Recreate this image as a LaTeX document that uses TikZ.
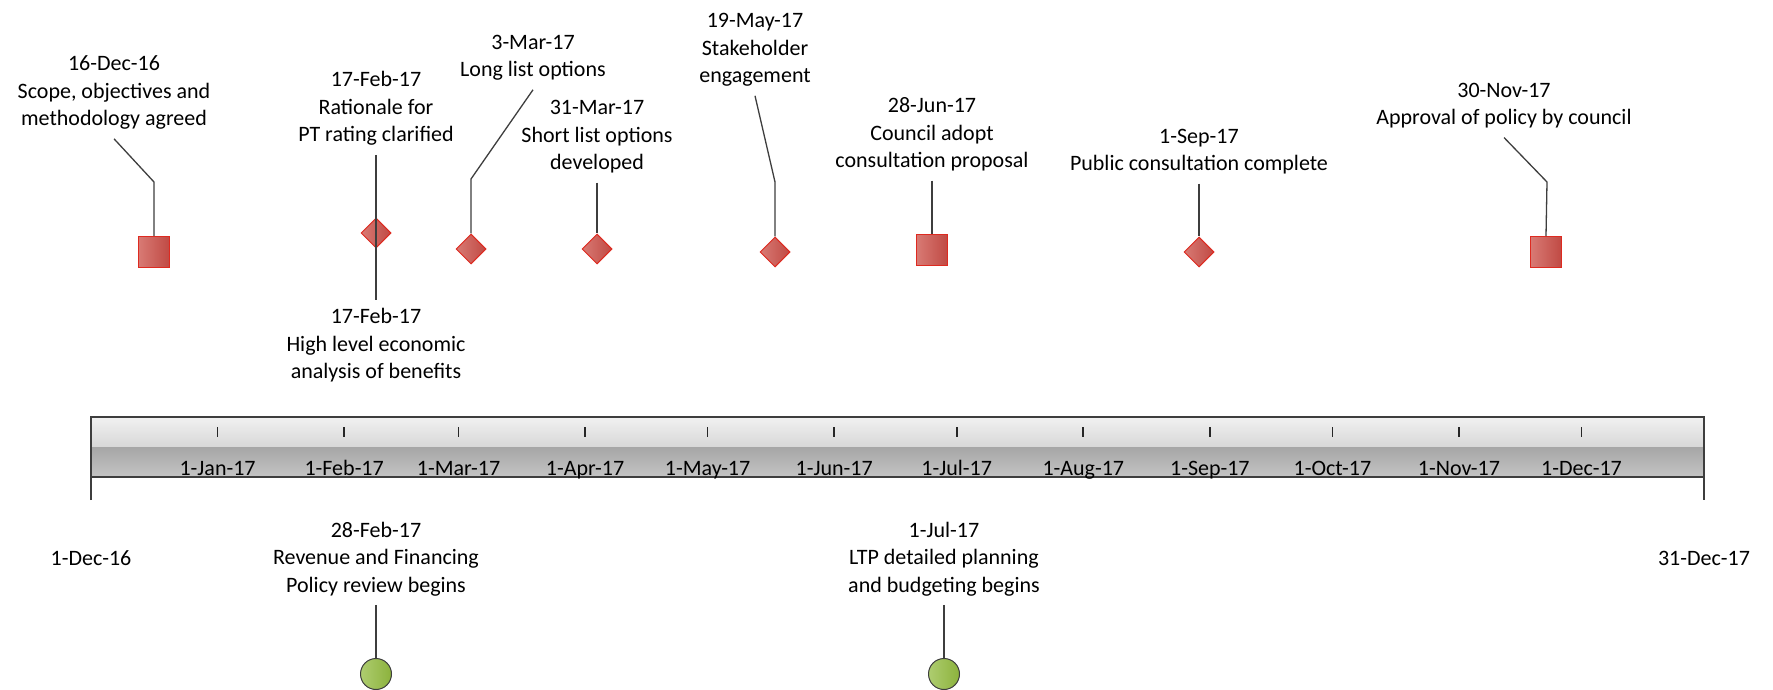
\documentclass[tikz,border=0pt]{standalone}
\usepackage{fontspec}
\setmainfont{Carlito}
\usetikzlibrary{shapes.geometric}
\definecolor{planRed}{RGB}{192,74,68}
\definecolor{planLightRed}{RGB}{216,122,116}
\definecolor{planRedLine}{RGB}{222,42,32}
\definecolor{planGreen}{RGB}{140,178,60}
\definecolor{planLightGreen}{RGB}{174,205,112}
\definecolor{planLine}{RGB}{62,62,62}
\definecolor{planBarTop}{RGB}{241,241,241}
\definecolor{planBarMid}{RGB}{215,215,215}
\definecolor{planBarDark}{RGB}{166,166,166}
\definecolor{planBarLow}{RGB}{196,196,196}

\begin{document}
\begin{tikzpicture}[
  x=1pt, y=1pt,
  evtext/.style={
    font=\fontsize{22}{27.5}\selectfont,
    align=center,
    inner sep=0pt,
    outer sep=9pt,
    anchor=base
  },
  monthtext/.style={font=\fontsize{22}{27.5}\selectfont,inner sep=0pt,anchor=base},
  milestone/.style={
    draw=planRedLine,
    line width=1pt,
    inner sep=0pt,
    left color=planLightRed,
    right color=planRed
  },
  squaremark/.style={milestone,rectangle,minimum size=31pt},
  diamondmark/.style={milestone,diamond,minimum size=30pt},
  startmark/.style={
    circle,
    draw=planLine,
    line width=1pt,
    inner sep=0pt,
    minimum size=31pt,
    left color=planLightGreen,
    right color=planGreen
  },
  leader/.style={planLine,line width=1.3pt},
  barline/.style={planLine,line width=1.2pt},
  monthtick/.style={black!85,line width=1.7pt}
]
  \useasboundingbox (0,0) rectangle (1773,689);

  \shade[top color=planBarTop,bottom color=planBarMid] (91,242) rectangle (1704,272);
  \shade[top color=planBarDark,bottom color=planBarLow] (91,212) rectangle (1704,242);
  \draw[barline] (91,189) -- (91,272) -- (1704,272) -- (1704,189);
  \draw[barline] (91,212) -- (1704,212);

  \foreach \d/\m in {31/Jan,62/Feb,90/Mar,121/Apr,151/May,182/Jun,
                     212/Jul,243/Aug,274/Sep,304/Oct,335/Nov,365/Dec}{
    \draw[monthtick] ({91+4.0835*\d},252) -- ++(0,10);
    \node[monthtext] (month\m) at ({91+4.0835*\d},214) {1-\m-17};
  }

  \node[evtext] (tstart) at (91,124) {1-Dec-16};
  \node[evtext] (tend) at (1704,124) {31-Dec-17};

  \node[squaremark] (m16dec) at (154,437) {};
  \node[evtext] (t16dec) at (114,563)
    {16-Dec-16\\Scope, objectives and\\methodology agreed};
  \coordinate (b16dec) at (154,507);
  \draw[leader] (t16dec.south) -- (b16dec) -- (m16dec.north);

  \node[diamondmark] (m17feb) at (376,456) {};
  \node[evtext] (t17feba) at (376,547)
    {17-Feb-17\\Rationale for\\PT rating clarified};
  \node[evtext] (t17febb) at (376,310)
    {17-Feb-17\\High level economic\\analysis of benefits};
  \draw[leader] (t17feba.south) -- (t17febb.north);

  \node[diamondmark] (m3mar) at (471,440) {};
  \node[evtext] (t3mar) at (533,612) {3-Mar-17\\Long list options};
  \coordinate (b3mar) at (471,510);
  \draw[leader] (t3mar.south) -- (b3mar) -- (m3mar.north);

  \node[diamondmark] (m31mar) at (597,440) {};
  \node[evtext] (t31mar) at (597,519)
    {31-Mar-17\\Short list options\\developed};
  \draw[leader] (t31mar.south) -- (m31mar.north);

  \node[diamondmark] (m19may) at (775,437) {};
  \node[evtext] (t19may) at (755,606) {19-May-17\\Stakeholder\\engagement};
  \coordinate (b19may) at (775,507);
  \draw[leader] (t19may.south) -- (b19may) -- (m19may.north);

  \node[squaremark] (m28jun) at (932,439) {};
  \node[evtext] (t28jun) at (932,521)
    {28-Jun-17\\Council adopt\\consultation proposal};
  \draw[leader] (t28jun.south) -- (m28jun.north);

  \node[diamondmark] (m1sep) at (1199,437) {};
  \node[evtext] (t1sep) at (1199,518) {1-Sep-17\\Public consultation complete};
  \draw[leader] (t1sep.south) -- (m1sep.north);

  \node[squaremark] (m30nov) at (1546,437) {};
  \node[evtext] (t30nov) at (1504,564)
    {30-Nov-17\\Approval of policy by council};
  \coordinate (b30nov) at (1547,507);
  \draw[leader] (t30nov.south) -- (b30nov) -- (m30nov.north);

  \node[startmark] (m28feb) at (376,15) {};
  \node[evtext] (t28feb) at (376,97)
    {28-Feb-17\\Revenue and Financing\\Policy review begins};
  \draw[leader] (t28feb.south) -- (m28feb.north);

  \node[startmark] (m1jul) at (944,15) {};
  \node[evtext] (t1jul) at (944,97)
    {1-Jul-17\\LTP detailed planning\\and budgeting begins};
  \draw[leader] (t1jul.south) -- (m1jul.north);
\end{tikzpicture}
\end{document}
